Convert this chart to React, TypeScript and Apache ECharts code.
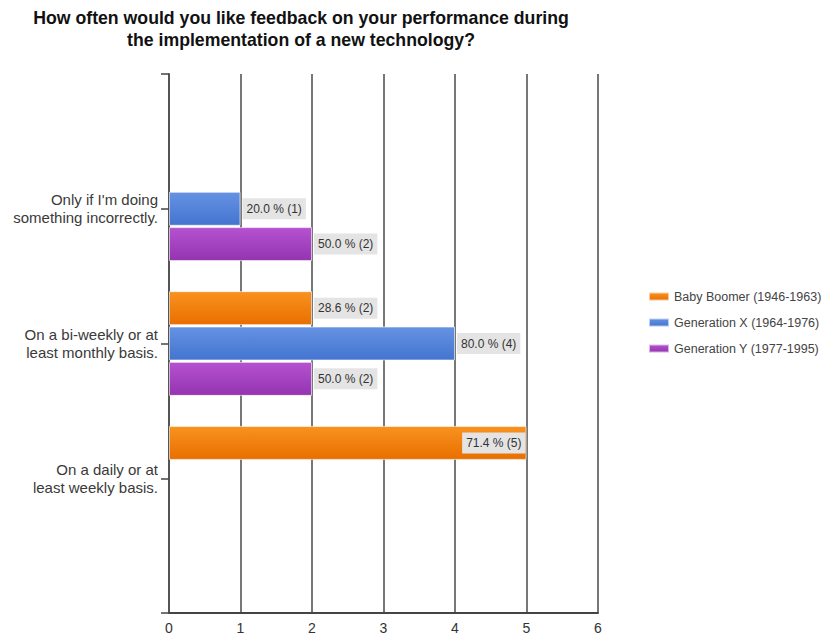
import React, { useEffect, useRef } from "react";
import * as echarts from "echarts";

const categories = [
  "",
  "Only if I'm doing\nsomething incorrectly.",
  "On a bi-weekly or at\nleast monthly basis.",
  "On a daily or at\nleast weekly basis.",
  "",
];
const seriesNames = [
  "Baby Boomer (1946-1963)",
  "Generation X (1964-1976)",
  "Generation Y (1977-1995)",
];
// counts per category (null = no bar)
const babyBoomer = [null, null, 2, 5, null];
const genX = [null, 1, 4, null, null];
const genY = [null, 2, 2, null, null];
// percentage labels
const babyBoomerPct = [null, null, "28.6", "71.4", null];
const genXPct = [null, "20.0", "80.0", null, null];
const genYPct = [null, "50.0", "50.0", null, null];
const xTicks = [0, 1, 2, 3, 4, 5, 6];

const colors = [
  ["#f9921f", "#e86f00"],
  ["#6592e2", "#4474d0"],
  ["#b552cf", "#9434b0"],
];

const FONT = "Liberation Sans, Arial, sans-serif";

function grad(c: string[]) {
  return new echarts.graphic.LinearGradient(0, 0, 0, 1, [
    { offset: 0, color: c[0] },
    { offset: 1, color: c[1] },
  ]);
}

function makeSeries(name: string, vals: (number | null)[], pcts: (string | null)[], ci: number) {
  return {
    name,
    type: "bar",
    barWidth: 34,
    barGap: "4%",
    itemStyle: { color: grad(colors[ci]), borderColor: "rgba(255,255,255,0.6)", borderWidth: 1 },
    data: vals.map((v, i) => {
      if (v === null) return "-";
      const inside = v >= 5;
      return {
        value: v,
        label: {
          show: true,
          position: inside ? "insideRight" : "right",
          distance: inside ? 1 : 2,
          formatter: `${pcts[i]} % (${v})`,
          color: "#333",
          fontSize: 12,
          fontFamily: FONT,
          backgroundColor: "#e4e4e4",
          padding: [5, 4, 4, 4],
        },
      };
    }),
  };
}

export default function App() {
  const ref = useRef<HTMLDivElement>(null);
  useEffect(() => {
    const chart = echarts.init(ref.current!, null, { renderer: "svg" });
    chart.setOption({
      animation: false,
      backgroundColor: "#ffffff",
      color: colors.map((c) => c[0]),
      title: {
        text: "How often would you like feedback on your performance during\nthe implementation of a new technology?",
        left: 296,
        top: 2,
        textAlign: "center",
        textStyle: {
          fontSize: 17.7,
          fontWeight: "bold",
          color: "#111",
          lineHeight: 22,
          fontFamily: FONT,
        },
      },
      legend: {
        orient: "vertical",
        left: 643,
        top: 285,
        itemWidth: 20,
        itemHeight: 8,
        itemGap: 13,
        icon: "rect",
        textStyle: { fontSize: 12.5, color: "#444", fontFamily: FONT },
        data: seriesNames,
      },
      grid: { left: 169, right: 225, top: 74, bottom: 26, containLabel: false },
      xAxis: {
        type: "value",
        min: xTicks[0],
        max: xTicks[xTicks.length - 1],
        interval: 1,
        axisLine: { show: true, lineStyle: { color: "#444", width: 2 } },
        axisTick: { show: false },
        splitLine: { show: true, lineStyle: { color: "#777", width: 2 } },
        axisLabel: {
          fontSize: 14,
          color: "#333",
          margin: 8,
          fontFamily: FONT,
        },
      },
      yAxis: {
        type: "category",
        data: categories,
        inverse: true,
        boundaryGap: false,
        axisLine: { show: true, lineStyle: { color: "#555", width: 2 } },
        axisTick: { show: true, length: 8, lineStyle: { color: "#444", width: 1.5 } },
        axisLabel: {
          fontSize: 15,
          color: "#3a3a3a",
          margin: 11,
          lineHeight: 18,
          fontFamily: FONT,
        },
        splitLine: { show: false },
      },
      series: [
        makeSeries(seriesNames[0], babyBoomer, babyBoomerPct, 0),
        makeSeries(seriesNames[1], genX, genXPct, 1),
        makeSeries(seriesNames[2], genY, genYPct, 2),
      ],
    });
    return () => chart.dispose();
  }, []);
  return (
    <div
      ref={ref}
      style={{ position: "fixed", left: 0, top: 0, width: 823, height: 639 }}
    />
  );
}
